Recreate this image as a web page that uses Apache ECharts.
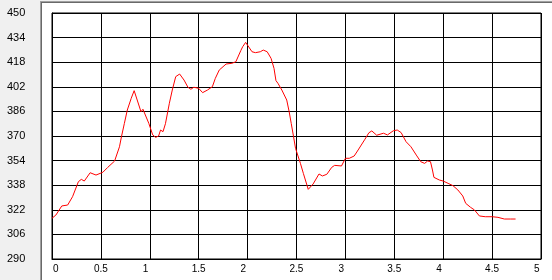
<!DOCTYPE html>
<html>
<head>
<meta charset="utf-8">
<script src="https://cdn.jsdelivr.net/npm/echarts@6/dist/echarts.min.js"></script>
<style>
html,body{margin:0;padding:0;background:#f0f0f0;width:552px;height:280px;overflow:hidden;}
#panel{position:absolute;left:40px;top:1px;width:511px;height:278px;border-left:1px solid #a0a0a0;border-top:1px solid #a0a0a0;}
#inner{width:510px;height:277px;border-left:1px solid #696969;border-top:1px solid #696969;background:#fff;}
#chart{position:absolute;left:0;top:0;width:552px;height:280px;}
</style>
</head>
<body>
<div id="panel"><div id="inner"></div></div>
<div id="chart"></div>
<script>
var distance = [0.00,0.04,0.10,0.16,0.21,0.27,0.30,0.33,0.39,0.45,0.52,0.57,0.64,0.69,0.71,0.74,0.77,0.81,0.84,0.86,0.91,0.93,0.99,1.03,1.06,1.09,1.11,1.135,1.16,1.20,1.23,1.265,1.305,1.35,1.39,1.42,1.45,1.50,1.54,1.59,1.64,1.67,1.71,1.78,1.84,1.88,1.93,1.95,1.98,2.00,2.045,2.08,2.13,2.16,2.20,2.24,2.27,2.29,2.31,2.35,2.40,2.425,2.446,2.47,2.49,2.54,2.57,2.62,2.67,2.73,2.765,2.81,2.86,2.89,2.96,3.00,3.04,3.09,3.13,3.20,3.24,3.27,3.32,3.39,3.43,3.49,3.53,3.57,3.62,3.67,3.725,3.77,3.81,3.84,3.87,3.89,3.905,3.96,4.00,4.05,4.10,4.15,4.20,4.23,4.28,4.32,4.37,4.43,4.50,4.56,4.625,4.69,4.71,4.74];
var elevation = [316.5,318.6,324.5,325.1,330.5,340.3,341.8,340.7,346.1,344.6,346.4,349.6,353.7,363.0,369.5,378.2,386.9,394.5,399.5,398.8,385.8,387.4,378.2,370.7,369.1,370.0,373.9,372.8,378.0,391.3,399.9,408.6,410.3,406.4,401.7,400.4,401.7,401.0,398.2,399.9,402.1,407.5,412.9,416.8,417.3,418.3,425.5,428.1,430.9,430.7,424.8,424.2,424.8,425.9,424.8,420.5,414.0,406.0,404.3,399.9,393.4,385.8,378.2,369.5,362.0,352.2,345.7,335.3,338.8,345.3,344.0,345.1,349.6,350.9,350.5,355.5,355.5,357.0,360.9,367.9,372.1,373.3,370.5,371.8,370.7,373.4,373.9,372.2,366.3,363.0,357.6,353.3,352.2,353.7,353.3,347.9,343.1,341.4,340.7,339.2,337.7,334.9,331.0,326.2,323.6,321.9,318.0,317.5,317.5,317.1,316.0,316.0,316.7,316.0];
var yBase = 290, yTop = 450, yStep = 16;
var xMin = 0, xMax = 5, xStep = 0.5;

var pts = distance.map(function(d, i){ return [d, elevation[i] - yBase]; });

var chart = echarts.init(document.getElementById('chart'), null, {renderer:'canvas'});
chart.setOption({
  backgroundColor: 'transparent',
  animation: false,
  grid: {left: 52, top: 13, width: 489, height: 246, show: true, borderColor: '#000', borderWidth: 1, backgroundColor: 'transparent'},
  xAxis: {
    type: 'value', min: xMin, max: xMax, interval: xStep,
    axisLine: {show: true, lineStyle: {color: '#000', width: 1}},
    axisTick: {show: false},
    splitLine: {show: true, lineStyle: {color: '#000', width: 1}},
    axisLabel: {
      margin: 5, color: '#000', fontFamily: 'Arial, "Liberation Sans"', fontSize: 10,
      showMinLabel: true, showMaxLabel: true,
      formatter: function(v){ return v === 0 ? '{z|0}' : '{a|' + v + '}'; },
      rich: {
        a: {width: 14, align: 'left', fontSize: 10, fontFamily: 'Arial, "Liberation Sans"', color: '#000'},
        z: {width: 13, align: 'right', fontSize: 10, fontFamily: 'Arial, "Liberation Sans"', color: '#000'}
      }
    }
  },
  yAxis: {
    type: 'value', min: 0, max: yTop - yBase, interval: yStep,
    axisLine: {show: true, lineStyle: {color: '#000', width: 1}},
    axisTick: {show: false},
    splitLine: {show: true, lineStyle: {color: '#000', width: 1}},
    axisLabel: {
      align: 'left', margin: 45, color: '#000', fontFamily: 'Arial, "Liberation Sans"', fontSize: 11,
      formatter: function(v){ return String(v + yBase); }
    }
  },
  series: [{
    type: 'line', data: pts, showSymbol: false, smooth: false,
    lineStyle: {color: '#ff0000', width: 1}
  }]
});
</script>
</body>
</html>
